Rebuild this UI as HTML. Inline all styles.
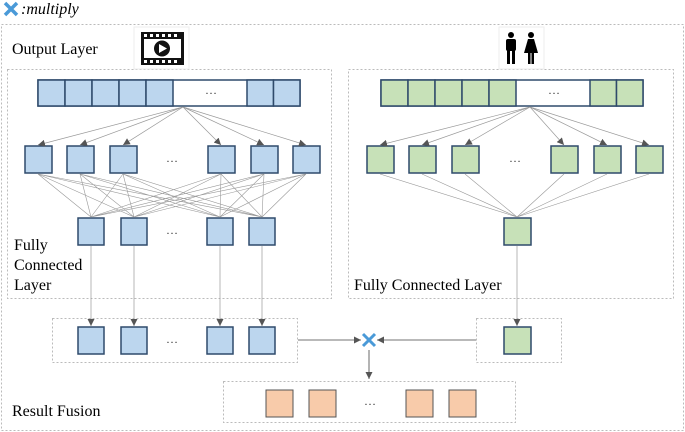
<!DOCTYPE html>
<html><head><meta charset="utf-8"><style>
body{margin:0;background:#fff}
svg{display:block;font-family:"Liberation Serif",serif}
</style></head><body>
<svg width="685" height="432" viewBox="0 0 685 432" xmlns="http://www.w3.org/2000/svg">
<defs>
<marker id="a" viewBox="0 0 10 10" refX="10" refY="5" markerWidth="7" markerHeight="7" markerUnits="userSpaceOnUse" orient="auto"><path d="M0,0L10,5L0,10z" fill="#555"/></marker>
</defs>
<g fill="none" stroke="#bbb" stroke-dasharray="2,2" stroke-width="1">
<rect x="1.5" y="24.5" width="682" height="406"/>
<rect x="7.5" y="69.5" width="324" height="229"/>
<rect x="348.5" y="69.5" width="325" height="229"/>
<rect x="52.5" y="318.5" width="245" height="44"/>
<rect x="476.5" y="318.5" width="85" height="44"/>
<rect x="223.5" y="381.5" width="292" height="41"/>
</g>
<rect x="134" y="27" width="55" height="42" fill="#fff" stroke="#eee"/>
<rect x="499" y="27" width="45" height="42" fill="#fff" stroke="#eee"/>
<rect x="141" y="32" width="43" height="33" fill="#111"/>
<rect x="144" y="39" width="37" height="19" fill="#fff"/>
<g fill="#fff"><rect x="144" y="34" width="3" height="3"/><rect x="150" y="34" width="3" height="3"/><rect x="156" y="34" width="3" height="3"/><rect x="162" y="34" width="3" height="3"/><rect x="168" y="34" width="3" height="3"/><rect x="174" y="34" width="3" height="3"/><rect x="144" y="60" width="3" height="3"/><rect x="150" y="60" width="3" height="3"/><rect x="156" y="60" width="3" height="3"/><rect x="162" y="60" width="3" height="3"/><rect x="168" y="60" width="3" height="3"/><rect x="174" y="60" width="3" height="3"/></g>
<circle cx="162" cy="48.5" r="8" fill="#111"/><path d="M159,44L167,48.5L159,53z" fill="#fff"/>
<g fill="#000"><circle cx="511" cy="35" r="3"/><rect x="506" y="39" width="10" height="12" rx="2"/><rect x="507" y="50" width="3" height="14"/><rect x="512" y="50" width="3" height="14"/>
<circle cx="531" cy="35" r="3"/><path d="M528,39h6l4,14h-14z"/><rect x="528" y="52" width="2.5" height="12"/><rect x="531.5" y="52" width="2.5" height="12"/></g>
<path d="M5,3L17,15M17,3L5,15" stroke="#4a9ad8" stroke-width="3.5"/>
<text x="21" y="14" font-size="16" font-style="italic">:multiply</text>
<text x="12" y="54" font-size="16">Output Layer</text>
<text x="14" y="250" font-size="16">Fully</text>
<text x="14" y="270" font-size="16">Connected</text>
<text x="14" y="290" font-size="16">Layer</text>
<text x="354" y="290" font-size="16">Fully Connected Layer</text>
<text x="12" y="416" font-size="16">Result Fusion</text>
<g stroke="#2f4a6b" stroke-width="1.5">
<rect x="38" y="80" width="262" height="26" fill="#fff"/>
<g fill="#bcd6ee"><rect x="38" y="80" width="27" height="26"/><rect x="65" y="80" width="27" height="26"/><rect x="92" y="80" width="27" height="26"/><rect x="119" y="80" width="27" height="26"/><rect x="146" y="80" width="27" height="26"/><rect x="247" y="80" width="26.5" height="26"/><rect x="273.5" y="80" width="26.5" height="26"/>
<rect x="25" y="146" width="27" height="27"/><rect x="67" y="146" width="27" height="27"/><rect x="110" y="146" width="27" height="27"/><rect x="208" y="146" width="27" height="27"/><rect x="251" y="146" width="27" height="27"/><rect x="293" y="146" width="27" height="27"/>
<rect x="78" y="218" width="26" height="27"/><rect x="121" y="218" width="26" height="27"/><rect x="207" y="218" width="26" height="27"/><rect x="249" y="218" width="26" height="27"/>
<rect x="78" y="327" width="26" height="27"/><rect x="121" y="327" width="26" height="27"/><rect x="207" y="327" width="26" height="27"/><rect x="249" y="327" width="26" height="27"/></g>
<rect x="381" y="80" width="262" height="26" fill="#fff"/>
<g fill="#c7e1b8"><rect x="381" y="80" width="27" height="26"/><rect x="408" y="80" width="27" height="26"/><rect x="435" y="80" width="27" height="26"/><rect x="462" y="80" width="27" height="26"/><rect x="489" y="80" width="27" height="26"/><rect x="590" y="80" width="26.5" height="26"/><rect x="616.5" y="80" width="26.5" height="26"/>
<rect x="367" y="146" width="27" height="27"/><rect x="409" y="146" width="27" height="27"/><rect x="452" y="146" width="27" height="27"/><rect x="551" y="146" width="27" height="27"/><rect x="594" y="146" width="27" height="27"/><rect x="636" y="146" width="27" height="27"/>
<rect x="504" y="218" width="27" height="27"/><rect x="504" y="327" width="27" height="27"/></g>
</g>
<g fill="#f8cbaa" stroke="#555" stroke-width="1"><rect x="266" y="390" width="27" height="27"/><rect x="309" y="390" width="27" height="27"/><rect x="406" y="390" width="27" height="27"/><rect x="449" y="390" width="27" height="27"/></g>
<g stroke="#999" stroke-width="0.7" fill="none" marker-end="url(#a)">
<path d="M183,107L38,145"/><path d="M183,107L80,145"/><path d="M183,107L123,145"/><path d="M183,107L221,145"/><path d="M183,107L264,145"/><path d="M183,107L306,145"/>
<path d="M530,107L380,145"/><path d="M530,107L422,145"/><path d="M530,107L465,145"/><path d="M530,107L564,145"/><path d="M530,107L607,145"/><path d="M530,107L649,145"/>
<path d="M91,246V326"/><path d="M134,246V326"/><path d="M220,246V326"/><path d="M262,246V326"/><path d="M517,246V326"/>
</g>
<g stroke="#999" stroke-width="0.6">
<path d="M38,174L91,217M38,174L134,217M38,174L220,217M38,174L262,217M80,174L91,217M80,174L134,217M80,174L220,217M80,174L262,217M123,174L91,217M123,174L134,217M123,174L220,217M123,174L262,217M221,174L91,217M221,174L134,217M221,174L220,217M221,174L262,217M264,174L91,217M264,174L134,217M264,174L220,217M264,174L262,217M306,174L91,217M306,174L134,217M306,174L220,217M306,174L262,217"/>
<path d="M380,174L517,217M422,174L517,217M465,174L517,217M564,174L517,217M607,174L517,217M649,174L517,217"/>
</g>
<g stroke="#444" stroke-width="0.8" fill="none" marker-end="url(#a)">
<path d="M298,340H361"/><path d="M476,340H377"/><path d="M369,350V379"/>
</g>
<path d="M363,334L375,346M375,334L363,346" stroke="#4a9ad8" stroke-width="3"/>
<g font-size="12" text-anchor="middle" fill="#333">
<text x="211" y="94">…</text><text x="554" y="94">…</text>
<text x="172" y="162">…</text><text x="515" y="162">…</text>
<text x="172" y="234">…</text><text x="172" y="343">…</text><text x="370" y="405">…</text>
</g>
</svg>
</body></html>
